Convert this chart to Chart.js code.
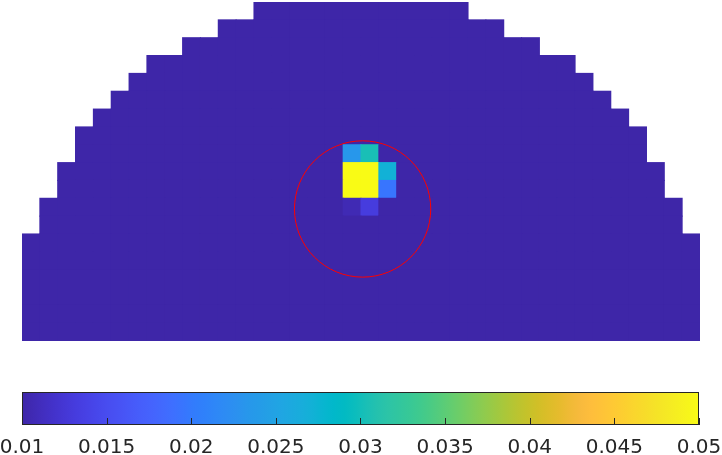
<!DOCTYPE html>
<html><head><meta charset="utf-8">
<script src="https://cdn.jsdelivr.net/npm/chart.js@4/dist/chart.umd.min.js"></script>
<style>
html,body{margin:0;padding:0;background:#fff;overflow:hidden;}
#wrap{position:relative;width:722px;height:455px;overflow:hidden;}
#main{position:absolute;left:0;top:0;}
#cbar{position:absolute;left:0;top:345px;}
</style></head><body>
<div id="wrap"><canvas id="main" width="722" height="345"></canvas><canvas id="cbar" width="722" height="110"></canvas></div>
<script>
// ---- data ----
const columnLabels = ['1','2','3','4','5','6','7','8','9','10','11','12','13','14','15','16','17','18','19','20',
  '21','22','23','24','25','26','27','28','29','30','31','32','33','34','35','36','37','38'];
// number of filled cells in each column, counted from the bottom
const columnHeights = [6,8,10,12,13,14,15,16,16,17,17,18,18,
  19,19,19,19,19,19,19,19,19,19,19,19,
  18,18,17,17,16,16,15,14,13,12,10,8,6];
const baseValue = 0.01;
// hotspot cells (column index, row index from bottom, value)
const hotCols   = [18, 19, 18, 19, 20, 18, 19, 20, 18, 19];
const hotRows   = [10, 10, 9, 9, 9, 8, 8, 8, 7, 7];
const hotValues = [0.0235, 0.0303, 0.05, 0.05, 0.0272, 0.05, 0.05, 0.0197, 0.0109, 0.0137];
// red circle (x relative to domain centre, y from bottom, radius in cell units)
const circleX = [0.09];
const circleY = [7.4];
const circleR = [3.82];
// colour bar
const cbarMin = 0.01, cbarMax = 0.05;
const cbarTickValues = [0.01, 0.015, 0.02, 0.025, 0.03, 0.035, 0.04, 0.045, 0.05];
const cbarTickLabels = ['0.01','0.015','0.02','0.025','0.03','0.035','0.04','0.045','0.05'];
// parula colormap (64 entries)
const parula = [
[0.2422,0.1504,0.6603],[0.2504,0.1650,0.7076],[0.2578,0.1818,0.7511],[0.2647,0.1978,0.7952],
[0.2706,0.2147,0.8364],[0.2751,0.2342,0.8710],[0.2783,0.2559,0.8991],[0.2803,0.2782,0.9221],
[0.2813,0.3006,0.9414],[0.2810,0.3228,0.9579],[0.2795,0.3447,0.9717],[0.2760,0.3667,0.9829],
[0.2699,0.3892,0.9906],[0.2602,0.4123,0.9952],[0.2440,0.4358,0.9988],[0.2206,0.4603,0.9973],
[0.1963,0.4847,0.9892],[0.1834,0.5074,0.9798],[0.1786,0.5289,0.9682],[0.1764,0.5499,0.9520],
[0.1687,0.5703,0.9359],[0.1540,0.5902,0.9218],[0.1460,0.6091,0.9079],[0.1380,0.6276,0.8973],
[0.1248,0.6459,0.8883],[0.1113,0.6635,0.8763],[0.0952,0.6798,0.8598],[0.0689,0.6948,0.8394],
[0.0297,0.7082,0.8163],[0.0036,0.7203,0.7917],[0.0067,0.7312,0.7660],[0.0433,0.7411,0.7394],
[0.0964,0.7500,0.7120],[0.1408,0.7584,0.6842],[0.1717,0.7670,0.6554],[0.1938,0.7758,0.6251],
[0.2161,0.7843,0.5923],[0.2470,0.7918,0.5567],[0.2906,0.7973,0.5188],[0.3406,0.8008,0.4789],
[0.3909,0.8029,0.4354],[0.4456,0.8024,0.3909],[0.5044,0.7993,0.3480],[0.5616,0.7942,0.3045],
[0.6174,0.7876,0.2612],[0.6720,0.7793,0.2227],[0.7242,0.7698,0.1910],[0.7738,0.7598,0.1646],
[0.8203,0.7498,0.1535],[0.8634,0.7406,0.1596],[0.9035,0.7330,0.1774],[0.9393,0.7288,0.2100],
[0.9728,0.7298,0.2394],[0.9956,0.7434,0.2371],[0.9970,0.7659,0.2199],[0.9952,0.7893,0.2028],
[0.9892,0.8136,0.1885],[0.9786,0.8386,0.1766],[0.9676,0.8639,0.1643],[0.9610,0.8890,0.1537],
[0.9597,0.9135,0.1423],[0.9628,0.9373,0.1265],[0.9691,0.9606,0.1064],[0.9769,0.9839,0.0805]];

function rgbStr(c){return 'rgb('+Math.round(c[0]*255)+','+Math.round(c[1]*255)+','+Math.round(c[2]*255)+')';}
function colorFor(v){
  let t=(v-cbarMin)/(cbarMax-cbarMin); t=Math.max(0,Math.min(1,t));
  const i=Math.min(parula.length-1,Math.floor(t*parula.length));
  return rgbStr(parula[i]);
}
function valueAt(c,r){
  for(let k=0;k<hotCols.length;k++){ if(hotCols[k]===c&&hotRows[k]===r) return hotValues[k]; }
  return baseValue;
}
const nRows = Math.max.apply(null,columnHeights);
const datasets=[];
for(let r=0;r<nRows;r++){
  const data=[],colors=[];
  for(let c=0;c<columnLabels.length;c++){
    if(r<columnHeights[c]){data.push([r,r+1]);colors.push(colorFor(valueAt(c,r)));}
    else{data.push(null);colors.push('rgba(0,0,0,0)');}
  }
  datasets.push({type:'bar',data:data,backgroundColor:colors,borderWidth:0,
    barPercentage:1,categoryPercentage:1,grouped:false,inflateAmount:0.5,order:1,xAxisID:'x',yAxisID:'y'});
}
datasets.push({type:'scatter',xAxisID:'x2',yAxisID:'y',order:0,
  data:circleX.map((x,i)=>({x:x,y:circleY[i]})),
  pointRadius:function(ctx){const s=ctx.chart.scales.x2; const r=circleR[ctx.dataIndex]!==undefined?circleR[ctx.dataIndex]:circleR[0]; return Math.abs(s.getPixelForValue(r)-s.getPixelForValue(0));},
  pointBackgroundColor:'rgba(0,0,0,0)',pointBorderColor:'#ff0000',pointBorderWidth:1,showLine:false,clip:false});

const halfW = columnLabels.length/2;
new Chart(document.getElementById('main'),{
  type:'bar',
  data:{labels:columnLabels,datasets:datasets},
  options:{responsive:false,animation:false,devicePixelRatio:1,events:[],
    layout:{padding:{left:22,right:22,top:2,bottom:4}},
    plugins:{legend:{display:false},tooltip:{enabled:false}},
    scales:{
      x:{type:'category',display:false,offset:true},
      x2:{type:'linear',display:false,min:-halfW,max:halfW,offset:false},
      y:{type:'linear',display:false,min:0,max:nRows,offset:false}
    }}
});

const colorbarPlugin={
  id:'colorbarFill',
  beforeDatasetsDraw(chart){
    const ctx=chart.ctx,a=chart.chartArea,x=chart.scales.x;
    const x0=x.getPixelForValue(cbarMin),x1=x.getPixelForValue(cbarMax);
    const g=ctx.createLinearGradient(x0,0,x1,0);
    parula.forEach((c,i)=>g.addColorStop(i/(parula.length-1),rgbStr(c)));
    ctx.save();
    ctx.fillStyle=g;
    ctx.fillRect(x0,a.top,x1-x0,a.bottom-a.top);
    ctx.strokeStyle='#262626';ctx.lineWidth=1;
    ctx.strokeRect(Math.round(x0)+0.5,Math.round(a.top)+0.5,Math.round(x1-x0)-1,Math.round(a.bottom-a.top)-1);
    ctx.beginPath();
    cbarTickValues.forEach(v=>{
      const px=Math.round(x.getPixelForValue(v))+0.5;
      ctx.moveTo(px,a.bottom);ctx.lineTo(px,a.bottom-7);
    });
    ctx.stroke();
    ctx.restore();
  }
};
new Chart(document.getElementById('cbar'),{
  type:'bar',
  data:{datasets:[]},
  plugins:[colorbarPlugin],
  options:{responsive:false,animation:false,devicePixelRatio:1,events:[],
    layout:{padding:{left:22,right:23,top:47,bottom:0}},
    plugins:{legend:{display:false},tooltip:{enabled:false}},
    scales:{
      x:{type:'linear',position:'bottom',min:cbarMin,max:cbarMax,offset:false,
        afterBuildTicks:function(axis){axis.ticks=cbarTickValues.map(v=>({value:v}));},
        afterFit:function(axis){axis.paddingLeft=0;axis.paddingRight=0;axis.height=30;},
        grid:{display:false,drawTicks:false,offset:false},border:{display:false},
        ticks:{autoSkip:false,maxRotation:0,padding:11,color:'#262626',
          font:{family:'DejaVu Sans',size:20},
          callback:function(v,i){return cbarTickLabels[i];}}},
      y:{display:false,min:0,max:1}
    }}
});
</script>
</body></html>
